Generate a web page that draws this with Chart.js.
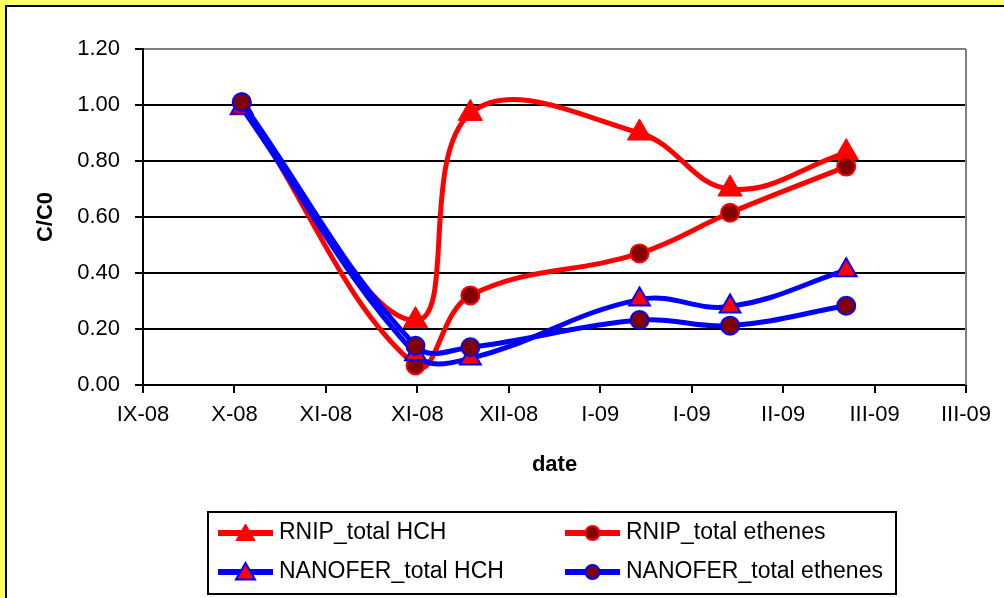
<!DOCTYPE html>
<html>
<head>
<meta charset="utf-8">
<script src="https://cdn.jsdelivr.net/npm/chart.js@4.4.1/dist/chart.umd.min.js"></script>
<style>
  html, body { margin: 0; padding: 0; background: #fff; }
  #wrap { width: 1004px; height: 598px; }
</style>
</head>
<body>
<div id="wrap"><canvas id="chart" width="1004" height="598"></canvas></div>
<script>
// tick labels of the date axis (one per major unit)
const tickLabels = ['IX-08', 'X-08', 'XI-08', 'XI-08', 'XII-08', 'I-09', 'I-09', 'II-09', 'III-09', 'III-09'];
// sampling positions, in major-unit steps from the first tick
const sampleX = [1.08, 2.98, 3.58, 5.43, 6.42, 7.69];
const rnipHch = [0.99, 0.23, 0.97, 0.90, 0.70, 0.83];
const rnipEthenes = [1.01, 0.07, 0.32, 0.47, 0.615, 0.78];
const nanoferHch = [0.99, 0.11, 0.095, 0.305, 0.28, 0.41];
const nanoferEthenes = [1.01, 0.14, 0.135, 0.232, 0.212, 0.283];
const yTicks = [0, 0.2, 0.4, 0.6, 0.8, 1.0, 1.2];

const FONT = "'Liberation Sans', Arial, sans-serif";
Chart.defaults.font.family = FONT;
Chart.defaults.color = '#000';

const toPoints = (ys) => ys.map((y, i) => ({ x: sampleX[i], y: y }));

const frame = {
    id: 'frame',
    beforeDraw(chart) {
        const ctx = chart.ctx;
        ctx.save();
        ctx.fillStyle = '#fff';
        ctx.fillRect(0, 0, chart.width, chart.height);
        ctx.fillStyle = '#ffff66';
        ctx.fillRect(0, 0, chart.width, 5);
        ctx.fillRect(0, 0, 5, chart.height);
        ctx.fillStyle = '#000';
        ctx.fillRect(5, 5, chart.width - 5, 2);
        ctx.fillRect(5, 5, 2, chart.height - 5);
        ctx.restore();
    },
    beforeDatasetsDraw(chart) {
        const { ctx, chartArea } = chart;
        ctx.save();
        ctx.strokeStyle = '#808080';
        ctx.lineWidth = 2;
        ctx.beginPath();
        ctx.moveTo(chartArea.right, chartArea.top);
        ctx.lineTo(chartArea.right, chartArea.bottom);
        ctx.stroke();
        ctx.restore();
    }
};

// legend in a box with line + marker samples
const boxLegend = {
    id: 'boxLegend',
    afterDraw(chart) {
        const ctx = chart.ctx;
        ctx.save();
        ctx.strokeStyle = '#000';
        ctx.lineWidth = 2;
        ctx.strokeRect(208, 512, 688, 82);
        const cols = [218, 565];
        const rows = [533, 572];
        const order = [0, 1, 2, 3];
        order.forEach((di, k) => {
            const ds = chart.data.datasets[di];
            const x0 = cols[k % 2];
            const y = rows[Math.floor(k / 2)];
            const x1 = x0 + 55;
            ctx.strokeStyle = ds.borderColor;
            ctx.lineWidth = 6;
            ctx.beginPath();
            ctx.moveTo(x0, y);
            ctx.lineTo(x1, y);
            ctx.stroke();
            ctx.fillStyle = ds.pointBackgroundColor;
            ctx.strokeStyle = ds.pointBorderColor;
            ctx.lineWidth = ds.pointBorderWidth;
            Chart.helpers.drawPoint(ctx, {
                pointStyle: ds.pointStyle,
                radius: ds.pointStyle === 'triangle' ? 11 : 7,
                rotation: 0,
                borderWidth: ds.pointBorderWidth
            }, (x0 + x1) / 2, y + (ds.pointStyle === 'triangle' ? 2 : 0));
            ctx.fillStyle = '#000';
            ctx.font = '23px ' + FONT;
            ctx.textBaseline = 'middle';
            ctx.textAlign = 'left';
            ctx.fillText(ds.label, x1 + 6, y);
        });
        ctx.restore();
    }
};

new Chart(document.getElementById('chart'), {
    type: 'line',
    data: {
        datasets: [
            {
                label: 'RNIP_total HCH',
                data: toPoints(rnipHch),
                borderColor: '#ff0000',
                borderWidth: 5,
                pointStyle: 'triangle',
                pointRadius: 14,
                pointBackgroundColor: '#ff0000',
                pointBorderColor: '#ff0000',
                pointBorderWidth: 1,
                tension: 0.4,
                order: 4
            },
            {
                label: 'RNIP_total ethenes',
                data: toPoints(rnipEthenes),
                borderColor: '#ff0000',
                borderWidth: 5,
                pointStyle: 'circle',
                pointRadius: 9,
                pointBackgroundColor: '#800000',
                pointBorderColor: '#ff0000',
                pointBorderWidth: 2,
                tension: 0.4,
                order: 3
            },
            {
                label: 'NANOFER_total HCH',
                data: toPoints(nanoferHch),
                borderColor: '#0000ff',
                borderWidth: 5,
                pointStyle: 'triangle',
                pointRadius: 12,
                pointBackgroundColor: '#ff0000',
                pointBorderColor: '#0000ff',
                pointBorderWidth: 2,
                tension: 0.4,
                order: 2
            },
            {
                label: 'NANOFER_total ethenes',
                data: toPoints(nanoferEthenes),
                borderColor: '#0000ff',
                borderWidth: 5,
                pointStyle: 'circle',
                pointRadius: 9,
                pointBackgroundColor: '#800000',
                pointBorderColor: '#0000ff',
                pointBorderWidth: 2,
                tension: 0.4,
                order: 1
            }
        ]
    },
    options: {
        responsive: false,
        animation: false,
        layout: { padding: { left: 0, top: 49, right: 38, bottom: 108 } },
        plugins: {
            legend: { display: false },
            tooltip: { enabled: false }
        },
        scales: {
            x: {
                type: 'linear',
                min: 0,
                max: tickLabels.length - 1,
                afterFit: (scale) => { scale.height = 105; },
                ticks: {
                    stepSize: 1,
                    autoSkip: false,
                    maxRotation: 0,
                    padding: 9,
                    font: { size: 22 },
                    callback: (v) => tickLabels[v]
                },
                grid: { drawOnChartArea: false, tickLength: 8, tickColor: '#000', lineWidth: 2 },
                border: { display: true, color: '#000', width: 2 },
                title: { display: true, text: 'date', font: { size: 22, weight: 'bold' }, padding: { top: 0, bottom: 12 } }
            },
            y: {
                min: 0,
                max: 1.2,
                afterFit: (scale) => { scale.width = 143; },
                afterBuildTicks: (scale) => { scale.ticks = yTicks.map(v => ({ value: v })); },
                ticks: {
                    padding: 15,
                    font: { size: 22 },
                    callback: (v) => Number(v).toFixed(2)
                },
                grid: {
                    color: (c) => (c.tick && c.tick.value >= 1.2 ? '#808080' : '#000'),
                    lineWidth: 2,
                    tickLength: 8,
                    tickColor: '#000'
                },
                border: { display: true, color: '#000', width: 2 },
                title: { display: true, text: 'C/C0', font: { size: 22, weight: 'bold' }, padding: { top: 33, bottom: 0 } }
            }
        }
    },
    plugins: [frame, boxLegend]
});
</script>
</body>
</html>
